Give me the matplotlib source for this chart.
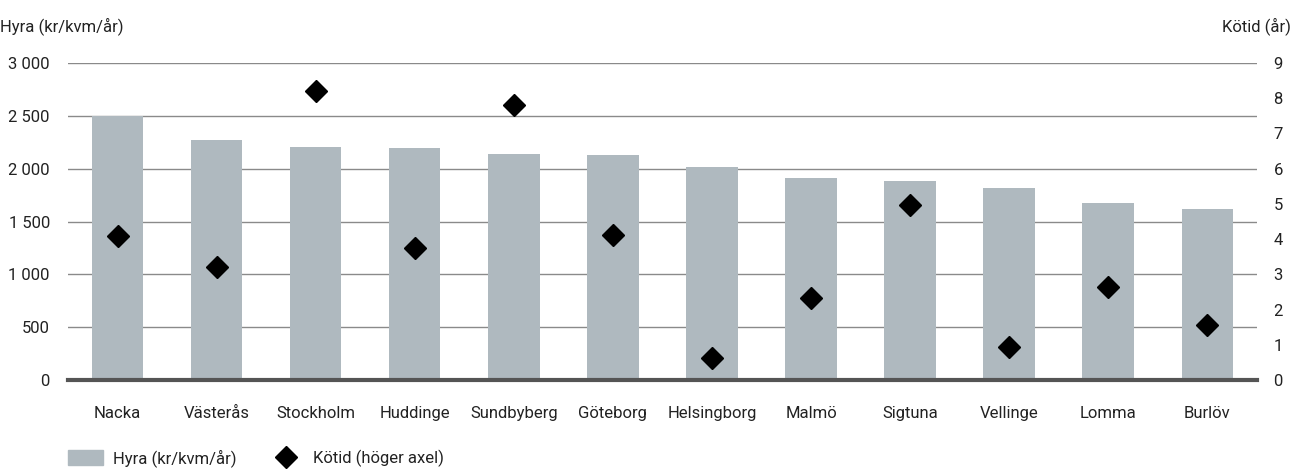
import numpy as np
import matplotlib.pyplot as plt
from matplotlib.lines import Line2D
from matplotlib.patches import Patch

plt.rcParams['font.family'] = ['Roboto', 'DejaVu Sans']

# Data
kommuner = ['Nacka', 'Västerås', 'Stockholm', 'Huddinge', 'Sundbyberg', 'Göteborg',
            'Helsingborg', 'Malmö', 'Sigtuna', 'Vellinge', 'Lomma', 'Burlöv']
hyra = [2500, 2270, 2205, 2195, 2140, 2130, 2015, 1910, 1885, 1820, 1675, 1620]
kotid = [4.1, 3.2, 8.2, 3.75, 7.8, 4.12, 0.63, 2.33, 4.97, 0.94, 2.64, 1.57]
left_ticks = [0, 500, 1000, 1500, 2000, 2500, 3000]
right_ticks = list(range(0, 10))

bar_color = '#afb9bf'
grid_color = '#8a8a8a'
text_color = '#222222'
fs = 12

fig = plt.figure(figsize=(12.93, 4.73), dpi=100)
ax = fig.add_axes([0.0526, 0.1966, 0.9194, 0.6702])
ax2 = ax.twinx()

x = np.arange(len(kommuner))
ax.bar(x, hyra, width=0.52, color=bar_color, zorder=2)
ax.set_xlim(-0.5, len(kommuner) - 0.5)
ax.set_ylim(0, 3000)
ax.set_yticks(left_ticks)
ax.set_yticklabels([f'{v:,}'.replace(',', ' ') for v in left_ticks])
for v in left_ticks[1:]:
    ax.axhline(v, color=grid_color, lw=1.0, zorder=1)
ax.axhline(0, color='#555555', lw=3, zorder=3, clip_on=False)

ax.set_xticks(x)
ax.set_xticklabels(kommuner)
ax.tick_params(axis='x', length=0, pad=19, labelsize=fs, colors=text_color)
ax.tick_params(axis='y', length=0, pad=13, labelsize=fs, colors=text_color)

ax2.plot(x, kotid, linestyle='none', marker='D', markersize=11.5, color='black', zorder=4)
ax2.set_ylim(0, 9)
ax2.set_yticks(right_ticks)
ax2.tick_params(axis='y', length=0, pad=12, labelsize=fs, colors=text_color)

for a in (ax, ax2):
    for s in a.spines.values():
        s.set_visible(False)

fig.text(0.0, 0.945, 'Hyra (kr/kvm/år)', fontsize=fs, color=text_color, va='center', ha='left')
fig.text(0.998, 0.945, 'Kötid (år)', fontsize=fs, color=text_color, va='center', ha='right')

handles = [Patch(color=bar_color, label='Hyra (kr/kvm/år)'),
           Line2D([], [], linestyle='none', marker='D', markersize=11.5, color='black',
                  label='Kötid (höger axel)')]
fig.legend(handles=handles, loc='lower left', bbox_to_anchor=(0.0526, 0.012), ncol=2,
           frameon=False, fontsize=fs, handlelength=2.1, handleheight=1.0,
           handletextpad=0.6, columnspacing=1.9, borderpad=0, borderaxespad=0,
           labelcolor=text_color)

fig.savefig('out.png', dpi=100)
